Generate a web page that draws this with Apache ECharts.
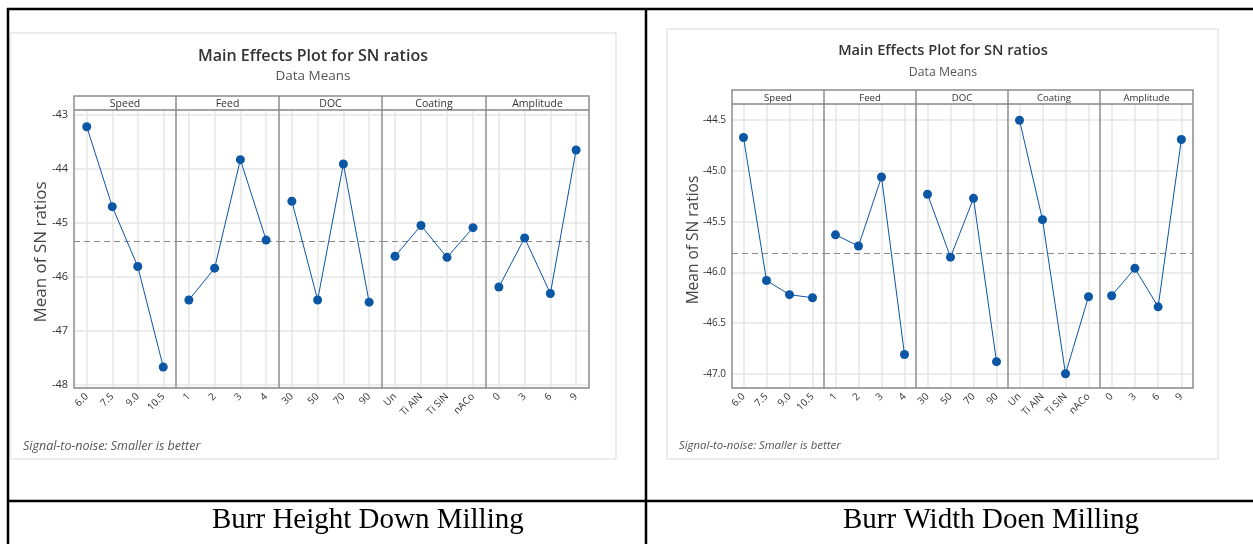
<!DOCTYPE html>
<html>
<head>
<meta charset="utf-8">
<style>
html,body{margin:0;padding:0;background:#fff;}
#chart{width:1253px;height:544px;}
</style>
<script src="https://cdn.jsdelivr.net/npm/echarts@6/dist/echarts.min.js"></script>
</head>
<body>
<div id="chart"></div>
<script>
// ---- data ----
const factors = ['Speed', 'Feed', 'DOC', 'Coating', 'Amplitude'];
const speedLevels = ['6.0', '7.5', '9.0', '10.5'];
const feedLevels = ['1', '2', '3', '4'];
const docLevels = ['30', '50', '70', '90'];
const coatingLevels = ['Un', 'Ti AlN', 'Ti SiN', 'nACo'];
const amplitudeLevels = ['0', '3', '6', '9'];

const heightSpeed = [-43.22, -44.70, -45.81, -47.67];
const heightFeed = [-46.43, -45.84, -43.83, -45.32];
const heightDoc = [-44.60, -46.43, -43.91, -46.47];
const heightCoating = [-45.62, -45.05, -45.64, -45.09];
const heightAmplitude = [-46.19, -45.28, -46.31, -43.65];
const heightMean = -45.35;
const heightRange = [-48.06, -42.91];
const heightTicks = ['-48', '-47', '-46', '-45', '-44', '-43'];

const widthSpeed = [-44.67, -46.08, -46.22, -46.25];
const widthFeed = [-45.63, -45.74, -45.06, -46.81];
const widthDoc = [-45.23, -45.85, -45.27, -46.88];
const widthCoating = [-44.50, -45.48, -47.00, -46.24];
const widthAmplitude = [-46.23, -45.96, -46.34, -44.69];
const widthMean = -45.81;
const widthRange = [-47.14, -44.34];
const widthTicks = ['-47.0', '-46.5', '-46.0', '-45.5', '-45.0', '-44.5'];

const titleText = 'Main Effects Plot for SN ratios';
const subtitleText = 'Data Means';
const yTitleText = 'Mean of SN ratios';
const footText = 'Signal-to-noise: Smaller is better';
const captionLeft = 'Burr Height Down Milling';
const captionRight = 'Burr Width Doen Milling';

const levels = [speedLevels, feedLevels, docLevels, coatingLevels, amplitudeLevels];

// ---- layout ----
const FONT = '"Open Sans", "Noto Sans", sans-serif';
const LEFT = {s: 1, frame: [10, 33, 606, 426], title: [313, 56], sub: [313, 76], stripTop: 96, plotTop: 110, plotBottom: 388,
  xs: [74, 176, 279, 382, 486, 589], yTitle: [41, 252], foot: [23, 446], caption: [212, 520], tick: 11};
const RIGHT = {s: 0.91, frame: [667, 29, 551, 430], title: [943, 51], sub: [943, 72], stripTop: 90, plotTop: 104, plotBottom: 388,
  xs: [732, 824, 916, 1008, 1100, 1193], yTitle: [694, 240], foot: [679, 446], caption: [843, 520], tick: 10};

const grids = [], xAxes = [], yAxes = [], series = [], graphics = [];
const FRAME_GRAY = '#8c8c8c';
const GRID_GRAY = '#e6e6e6';
const BLUE = '#0b56a5';

function addChart(L, dataSets, mean, range, ticks, caption) {
  const s = L.s;
  for (let i = 0; i < 5; i++) {
    const gi = grids.length;
    grids.push({left: L.xs[i], top: L.plotTop, width: L.xs[i + 1] - L.xs[i], height: L.plotBottom - L.plotTop});
    xAxes.push({type: 'category', gridIndex: gi, data: levels[i], boundaryGap: true,
      axisLine: {show: false}, axisTick: {show: false}, splitLine: {show: false},
      axisLabel: {interval: 0, rotate: 45, fontSize: 10, color: '#333', margin: 7, fontFamily: FONT}});
    yAxes.push({type: 'value', gridIndex: gi, min: range[0], max: range[1], splitNumber: 5,
      axisLine: {show: false}, axisTick: {show: false},
      splitLine: {show: true, lineStyle: {color: GRID_GRAY, width: 1.5}},
      axisLabel: {show: i === 0, fontSize: L.tick, color: '#333', margin: 6, fontFamily: FONT,
        formatter: function (v) {
          const t = ticks.find(t => Math.abs(parseFloat(t) - v) < 1e-6);
          return t || '';
        }}});
    const mlData = levels[i].map(c => ({xAxis: c, lineStyle: {color: GRID_GRAY, width: 1.5, type: 'solid'}}));
    mlData.push({yAxis: mean, lineStyle: {color: '#8a8a8a', width: 1, type: [6, 4]}});
    series.push({type: 'line', xAxisIndex: gi, yAxisIndex: gi, data: dataSets[i], z: 3,
      symbol: 'circle', symbolSize: 9, lineStyle: {color: BLUE, width: 1}, itemStyle: {color: BLUE},
      silent: true, animation: false,
      markLine: {z: 1, silent: true, symbol: ['none', 'none'], label: {show: false}, animation: false, data: mlData}});
  }
  const [fx, fy, fw, fh] = L.frame;
  graphics.push({type: 'rect', shape: {x: fx, y: fy, width: fw, height: fh}, style: {fill: 'none', stroke: '#d9d9d9', lineWidth: 1}, z: 10});
  graphics.push({type: 'text', x: L.title[0], y: L.title[1], z: 10, style: {text: titleText, font: '600 ' + (16 * s).toFixed(1) + 'px ' + FONT, fill: '#333', textAlign: 'center', textVerticalAlign: 'middle'}});
  graphics.push({type: 'text', x: L.sub[0], y: L.sub[1], z: 10, style: {text: subtitleText, font: (13.5 * s).toFixed(1) + 'px ' + FONT, fill: '#555', textAlign: 'center', textVerticalAlign: 'middle'}});
  const x0 = L.xs[0], x5 = L.xs[5];
  graphics.push({type: 'rect', shape: {x: x0, y: L.stripTop, width: x5 - x0, height: L.plotBottom - L.stripTop}, style: {fill: 'none', stroke: FRAME_GRAY, lineWidth: 1.5}, z: 10});
  graphics.push({type: 'line', shape: {x1: x0, y1: L.plotTop, x2: x5, y2: L.plotTop}, style: {stroke: FRAME_GRAY, lineWidth: 1.5}, z: 10});
  for (let i = 1; i < 5; i++) {
    graphics.push({type: 'line', shape: {x1: L.xs[i], y1: L.stripTop, x2: L.xs[i], y2: L.plotBottom}, style: {stroke: FRAME_GRAY, lineWidth: 1.5}, z: 10});
  }
  for (let i = 0; i < 5; i++) {
    graphics.push({type: 'text', x: (L.xs[i] + L.xs[i + 1]) / 2, y: (L.stripTop + L.plotTop) / 2 + 1, z: 10,
      style: {text: factors[i], font: (10.5 * s).toFixed(1) + 'px ' + FONT, fill: '#333', textAlign: 'center', textVerticalAlign: 'middle'}});
  }
  graphics.push({type: 'text', x: L.yTitle[0], y: L.yTitle[1], rotation: Math.PI / 2, z: 10,
    style: {text: yTitleText, font: (17 * s).toFixed(1) + 'px ' + FONT, fill: '#444', textAlign: 'center', textVerticalAlign: 'middle'}});
  graphics.push({type: 'text', x: L.foot[0], y: L.foot[1], z: 10,
    style: {text: footText, font: 'italic ' + (12.5 * s).toFixed(1) + 'px ' + FONT, fill: '#555', textAlign: 'left', textVerticalAlign: 'middle'}});
  graphics.push({type: 'text', x: L.caption[0], y: L.caption[1], z: 10,
    style: {text: caption, font: '29px "Liberation Serif", "Times New Roman", serif', fill: '#000', textAlign: 'left', textVerticalAlign: 'middle'}});
}

addChart(LEFT, [heightSpeed, heightFeed, heightDoc, heightCoating, heightAmplitude], heightMean, heightRange, heightTicks, captionLeft);
addChart(RIGHT, [widthSpeed, widthFeed, widthDoc, widthCoating, widthAmplitude], widthMean, widthRange, widthTicks, captionRight);

// table lines
const tbl = {stroke: '#000', lineWidth: 2.5};
graphics.push({type: 'line', shape: {x1: 7, y1: 9, x2: 1253, y2: 9}, style: tbl, z: 20});
graphics.push({type: 'line', shape: {x1: 8, y1: 8, x2: 8, y2: 544}, style: tbl, z: 20});
graphics.push({type: 'line', shape: {x1: 646, y1: 8, x2: 646, y2: 544}, style: tbl, z: 20});
graphics.push({type: 'line', shape: {x1: 7, y1: 501, x2: 1253, y2: 501}, style: tbl, z: 20});

const chart = echarts.init(document.getElementById('chart'), null, {renderer: 'canvas'});
chart.setOption({
  backgroundColor: '#fff',
  animation: false,
  grid: grids,
  xAxis: xAxes,
  yAxis: yAxes,
  series: series,
  graphic: {elements: graphics}
});
</script>
</body>
</html>
